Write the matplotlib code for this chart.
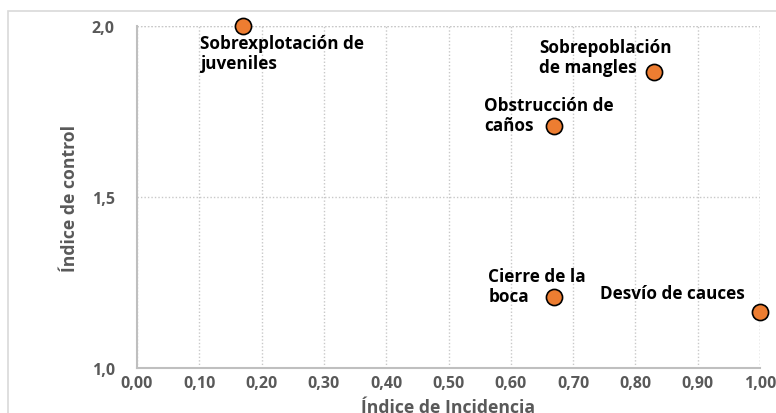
import matplotlib.pyplot as plt
from matplotlib.patches import Rectangle

# Data
labels = ["Sobrexplotación de\njuveniles", "Sobrepoblación\nde mangles", "Obstrucción de\ncaños",
          "Cierre de la\nboca", "Desvío de cauces"]
incidencia = [0.17, 0.83, 0.67, 0.67, 1.00]
control = [2.00, 1.865, 1.708, 1.208, 1.165]
x_ticks = [0.0, 0.1, 0.2, 0.3, 0.4, 0.5, 0.6, 0.7, 0.8, 0.9, 1.0]
y_ticks = [1.0, 1.5, 2.0]

# label offsets in pixels (dx, dy) and alignment
offsets = [(-43, -8, "left"), (-115, 34, "left"), (-70, 30, "left"), (-66, 30, "left"), (-15, 28, "right")]

plt.rcParams["font.family"] = ["Open Sans", "DejaVu Sans"]
gray = "#595959"

fig = plt.figure(figsize=(7.76, 4.14), dpi=100)
ax = fig.add_axes([137/776, 1 - 369/414, (760-137)/776, (369-27)/414])

# outer chart border
fig.patches.append(Rectangle((8/776, -0.2), 1.2, 1.2 - 12/414, transform=fig.transFigure,
                             fill=False, edgecolor="#D9D9D9", linewidth=1.2))

ax.scatter(incidencia, control, s=135, color="#ED7D31", edgecolor="black", linewidth=1.2, zorder=5, clip_on=False)

for lab, x, y, (dx, dy, ha) in zip(labels, incidencia, control, offsets):
    ax.annotate(lab, (x, y), xytext=(dx, dy), textcoords="offset pixels", ha=ha, va="top",
                fontsize=12.3, fontweight="bold", color="black", linespacing=1.12)

ax.set_xlim(0, 1)
ax.set_ylim(1, 2)
ax.set_xticks(x_ticks)
ax.set_yticks(y_ticks)
ax.set_xticklabels([f"{v:.2f}".replace(".", ",") for v in x_ticks])
ax.set_yticklabels([f"{v:.1f}".replace(".", ",") for v in y_ticks])
ax.tick_params(length=0, labelsize=11.5, labelcolor=gray)
ax.tick_params(axis="y", pad=16)
ax.tick_params(axis="x", pad=5)
for t in ax.get_xticklabels() + ax.get_yticklabels():
    t.set_fontweight("bold")

ax.grid(True, linestyle=(0, (1, 1.5)), color="#C8C8C8", linewidth=1)
ax.set_axisbelow(True)
for s in ["top", "right"]:
    ax.spines[s].set_visible(False)
for s in ["left", "bottom"]:
    ax.spines[s].set_color("#BFBFBF")
    ax.spines[s].set_linewidth(1.5)
ax.axhline(2.0, color="#C8C8C8", linestyle=(0, (1, 1.5)), linewidth=1, zorder=0)
ax.axvline(1.0, color="#C8C8C8", linestyle=(0, (1, 1.5)), linewidth=1, zorder=0)

ax.set_xlabel("Índice de Incidencia", fontsize=12.7, fontweight="bold", color=gray, labelpad=5)
ax.set_ylabel("Índice de control", fontsize=12.7, fontweight="bold", color=gray, labelpad=9)

fig.savefig("out.png", dpi=100)
